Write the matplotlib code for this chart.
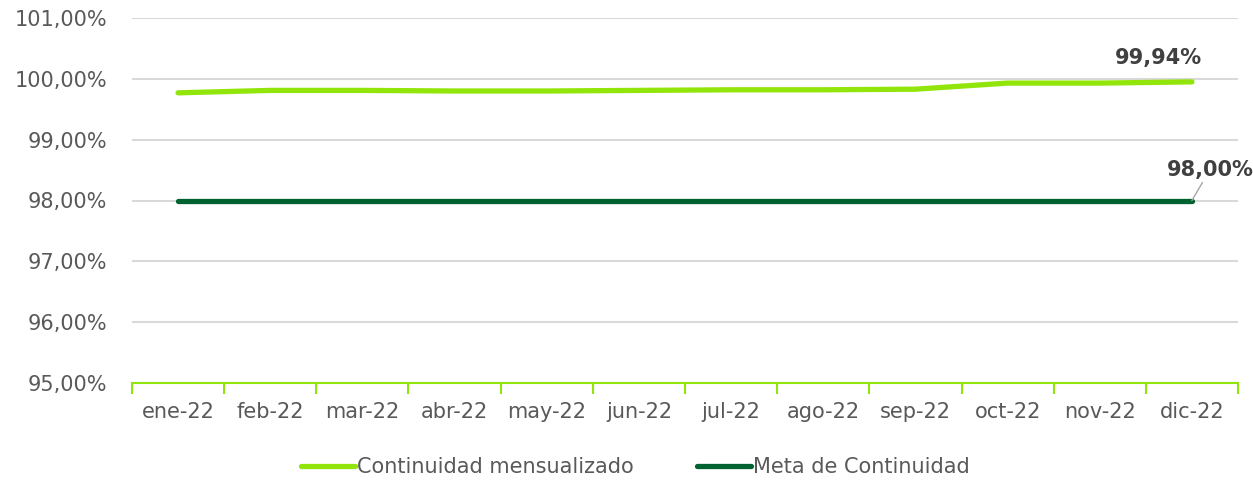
import numpy as np
import matplotlib.pyplot as plt

meses = ["ene-22", "feb-22", "mar-22", "abr-22", "may-22", "jun-22",
         "jul-22", "ago-22", "sep-22", "oct-22", "nov-22", "dic-22"]
continuidad = [99.77, 99.81, 99.81, 99.80, 99.80, 99.81,
               99.82, 99.82, 99.83, 99.93, 99.93, 99.95]
meta = [98.00] * 12
y_ticks = [95, 96, 97, 98, 99, 100, 101]

verde_claro = "#92e50b"
verde_oscuro = "#006230"
gris = "#595959"

fig = plt.figure(figsize=(12.53, 4.82), dpi=100)
ax = fig.add_axes([132 / 1253, 1 - 383 / 482, (1238 - 132) / 1253, (383 - 18) / 482])

x = np.arange(len(meses))
ax.plot(x, continuidad, color=verde_claro, lw=3.8, solid_capstyle="round",
        label="Continuidad mensualizado", zorder=3)
ax.plot(x, meta, color=verde_oscuro, lw=3.8, solid_capstyle="round",
        label="Meta de Continuidad", zorder=3)

ax.set_xlim(-0.5, len(meses) - 0.5)
ax.set_ylim(95, 101)
ax.set_yticks(y_ticks)
ax.set_yticklabels([f"{v:.2f}%".replace(".", ",") for v in y_ticks])
ax.set_xticks(x)
ax.set_xticklabels(meses)
ax.grid(axis="y", color="#d9d9d9", lw=1.5)
ax.set_axisbelow(True)

for s in ["top", "right", "left"]:
    ax.spines[s].set_visible(False)
ax.spines["bottom"].set_color(verde_claro)
ax.spines["bottom"].set_linewidth(1.5)

# separadores de categoria en el eje x
ax.set_xticks(np.arange(len(meses) + 1) - 0.5, minor=True)
ax.tick_params(axis="x", which="minor", length=8, color=verde_claro, width=1.5)
ax.tick_params(axis="x", which="major", length=0, pad=14, labelsize=15, labelcolor=gris)
ax.tick_params(axis="y", length=0, pad=18, labelsize=15, labelcolor=gris)

ax.annotate("99,94%", (x[-1], continuidad[-1]),
            xytext=(-24, 10), textcoords="offset points", ha="center", va="bottom",
            fontsize=15, fontweight="bold", color="#404040")
ax.annotate(f"{meta[-1]:.2f}%".replace(".", ","), (x[-1], meta[-1]),
            xytext=(13, 15), textcoords="offset points", ha="center", va="bottom",
            fontsize=15, fontweight="bold", color="#404040",
            arrowprops=dict(arrowstyle="-", color="#a6a6a6", lw=1, shrinkA=0, shrinkB=0),
            annotation_clip=False)

fig.legend(loc="center", bbox_to_anchor=(0.507, 1 - 467 / 482), ncol=2, frameon=False,
           fontsize=15, labelcolor=gris, handlelength=2.6, handletextpad=0.1,
           columnspacing=3.0)

fig.savefig("out.png", dpi=100)
